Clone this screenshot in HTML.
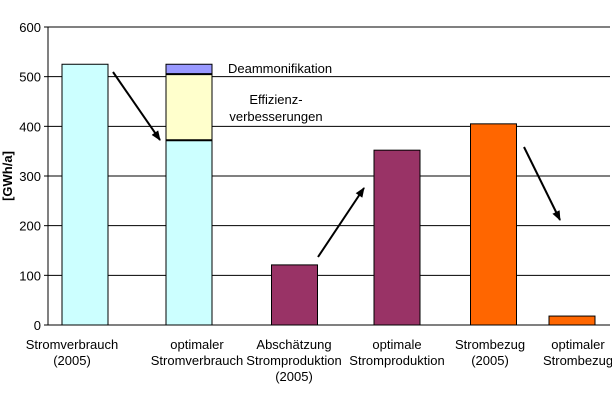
<!DOCTYPE html>
<html><head><meta charset="utf-8"><style>
body{margin:0;background:#fff;}
svg text{font-family:"Liberation Sans",sans-serif;font-size:13px;fill:#000;}
</style></head><body>
<svg width="612" height="407" id="c">
<defs><marker id="ah" markerUnits="userSpaceOnUse" markerWidth="10" markerHeight="10" refX="9" refY="5" orient="auto"><path d="M0,1 L10,5 L0,9 z" fill="#000"/></marker></defs>
<g id="grid"></g><g id="bars"></g><g id="ann"></g>
</svg>
<script>
const categories=[["Stromverbrauch","(2005)"],["optimaler","Stromverbrauch"],["Abschätzung","Stromproduktion","(2005)"],["optimale","Stromproduktion"],["Strombezug","(2005)"],["optimaler","Strombezug"]];
const baseValues=[525,372,121,352,405,18];
const efficiencyValues=[0,133,0,0,0,0];
const deammonValues=[0,20,0,0,0,0];
const baseColors=["#ccffff","#ccffff","#993366","#993366","#ff6600","#ff6600"];
const yTicks=[0,100,200,300,400,500,600];
const NS="http://www.w3.org/2000/svg";
const x0=48,x1=610,yB=325,yT=27,ymax=600;
const y=v=>yB-(v/ymax)*(yB-yT);
const centers=[85,189,294.5,397,493.5,572];
const labelCenters=[72,197,294,397,490,578];
const bx=i=>centers[i];
const bw=46;
function mk(t,a,p){const e=document.createElementNS(NS,t);for(const k in a)e.setAttribute(k,a[k]);p.appendChild(e);return e;}
const g=document.getElementById('grid');
yTicks.forEach(t=>{
 const l=mk('line',{x1:x0,x2:x1,y1:y(t),y2:y(t),stroke:'#000','stroke-width':1},g);
 
 
 mk('line',{x1:x0-4,x2:x0,y1:y(t),y2:y(t),stroke:'#000'},g);
 const tx=mk('text',{x:x0-7,y:y(t)+5,'text-anchor':'end'},g);tx.textContent=t;
 
 
});
mk('line',{x1:x0,x2:x0,y1:yT,y2:yB,stroke:'#000'},g);
const yt=mk('text',{x:0,y:0,transform:'translate(12,176) rotate(-90)','text-anchor':'middle','font-weight':'bold','font-size':'11'},g);yt.textContent='[GWh/a]';


const b=document.getElementById('bars');
categories.forEach((c,i)=>{
 const x=bx(i)-bw/2;
 const r=mk('rect',{x:x,y:y(baseValues[i]),width:bw,height:yB-y(baseValues[i]),fill:baseColors[i],stroke:'#000','stroke-width':1},b);
 
 
 if(efficiencyValues[i]>0){
  const top=baseValues[i]+efficiencyValues[i];
  const e=mk('rect',{x:x,y:y(top),width:bw,height:y(baseValues[i])-y(top),fill:'#ffffcc',stroke:'#000'},b);
  
  
  mk('line',{x1:x,x2:x+bw,y1:y(baseValues[i]),y2:y(baseValues[i]),stroke:'#000','stroke-width':2},b);
 }
 if(deammonValues[i]>0){
  const s=baseValues[i]+efficiencyValues[i];const top=s+deammonValues[i];
  const d=mk('rect',{x:x,y:y(top),width:bw,height:y(s)-y(top),fill:'#9999ff',stroke:'#000'},b);
  
  
  mk('line',{x1:x,x2:x+bw,y1:y(s),y2:y(s),stroke:'#000','stroke-width':2},b);
 }
 c.forEach((ln,j)=>{
  const t=mk('text',{x:labelCenters[i],y:349+j*16,'text-anchor':'middle'},b);t.textContent=ln;
  
  
 });
});
const a=document.getElementById('ann');
[[113,72,160,140],[318,257,364,188],[524,147,560,220]].forEach(p=>{
 const l=mk('line',{x1:p[0],y1:p[1],x2:p[2],y2:p[3],stroke:'#000','stroke-width':2,'marker-end':'url(#ah)'},a);
 
 
});
[['Deammonifikation',228,73,'start',118],['Effizienz-',276,104,'middle',70],['verbesserungen',276,121,'middle',104]].forEach(p=>{
 mk('rect',{x:p[3]=='start'?p[1]-2:p[1]-p[4]/2,y:p[2]-11,width:p[4],height:14,fill:'#fff'},a);
 const t=mk('text',{x:p[1],y:p[2],'text-anchor':p[3]},a);t.textContent=p[0];
 
 
});
</script>
</body></html>
